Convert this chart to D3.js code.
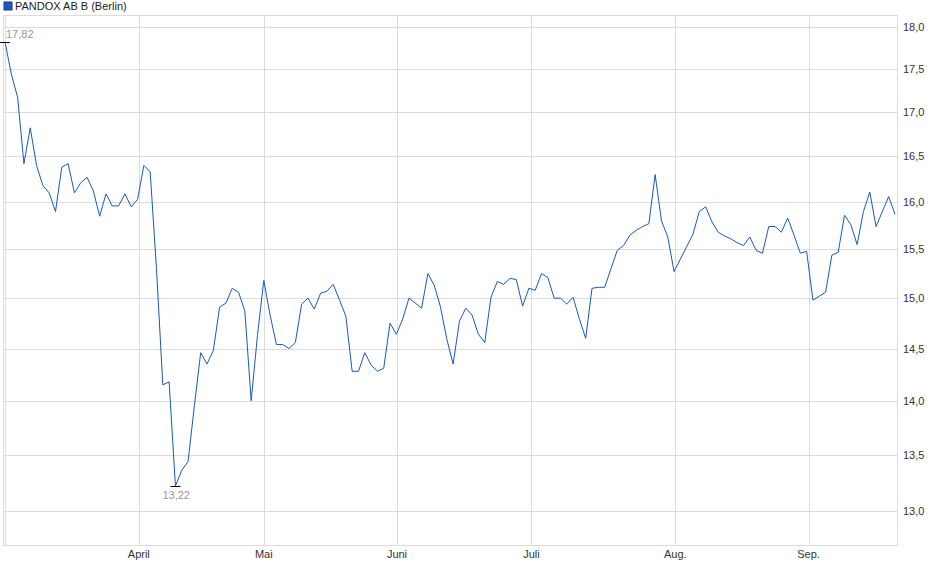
<!DOCTYPE html>
<html><head><meta charset="utf-8">
<script src="https://cdnjs.cloudflare.com/ajax/libs/d3/7.8.5/d3.min.js"></script>
<style>body{margin:0;background:#fff;font-family:"Liberation Sans",Arial,sans-serif}</style>
</head><body><div id="app"></div>
<script>
var title = "PANDOX AB B (Berlin)";
var prices = [
 17.82,17.44,17.17,16.42,16.82,16.40,16.18,16.10,15.90,16.38,
 16.42,16.10,16.21,16.27,16.12,15.85,16.09,15.96,15.96,16.09,
 15.95,16.03,16.40,16.33,15.30,14.15,14.18,13.22,13.36,13.44,
 13.95,14.46,14.35,14.48,14.91,14.95,15.10,15.06,14.87,14.00,
 14.63,15.18,14.83,14.54,14.54,14.50,14.56,14.94,15.00,14.89,
 15.05,15.07,15.14,14.98,14.82,14.28,14.28,14.46,14.34,14.28,
 14.31,14.75,14.64,14.79,15.00,14.95,14.90,15.25,15.13,14.91,
 14.59,14.35,14.77,14.90,14.83,14.64,14.56,15.01,15.17,15.14,
 15.20,15.19,14.92,15.10,15.08,15.25,15.21,15.00,15.00,14.94,
 15.01,14.79,14.60,15.10,15.11,15.11,15.30,15.49,15.54,15.65,
 15.70,15.74,15.77,16.30,15.80,15.63,15.27,15.40,15.53,15.66,
 15.90,15.95,15.79,15.68,15.64,15.61,15.57,15.54,15.63,15.49,
 15.46,15.74,15.74,15.68,15.83,15.65,15.46,15.48,14.98,15.02,
 15.06,15.44,15.47,15.86,15.76,15.55,15.90,16.11,15.74,15.90,
 16.06,15.87
];
var monthLabels = ["April","Mai","Juni","Juli","Aug.","Sep."];
var monthAt = [21.2,41.0,62.1,83.4,106.2,127.3];
var yTicks = [13,13.5,14,14.5,15,15.5,16,16.5,17,17.5,18];

var W = 940, H = 579;
var svg = d3.select("#app").append("svg").attr("width", W).attr("height", H);
var x = d3.scaleLinear().domain([0, prices.length - 1]).range([5, 895]);
var y = d3.scaleLog().domain([13, 18]).range([511, 27]);
var fmt = function (v) { return d3.format(".1f")(v).replace(".", ","); };

svg.selectAll("line.hg").data(yTicks).enter().append("line")
    .attr("x1", 3).attr("x2", 897)
    .attr("y1", function (d) { return Math.round(y(d)) + 0.5; })
    .attr("y2", function (d) { return Math.round(y(d)) + 0.5; })
    .attr("stroke", "#dcdcdc");
svg.selectAll("line.vg").data(monthAt).enter().append("line")
    .attr("x1", function (d) { return Math.round(x(d)) + 0.5; })
    .attr("x2", function (d) { return Math.round(x(d)) + 0.5; })
    .attr("y1", 15).attr("y2", 546).attr("stroke", "#dcdcdc");
// frame
svg.append("rect").attr("x", 3.5).attr("y", 15.5).attr("width", 894).attr("height", 530)
    .attr("fill", "none").attr("stroke", "#dcdcdc");
svg.append("line").attr("x1", 5.5).attr("x2", 5.5).attr("y1", 15).attr("y2", 546).attr("stroke", "#dcdcdc");

svg.selectAll("text.yt").data(yTicks).enter().append("text")
    .attr("x", 903).attr("y", function (d) { return y(d) + 4; })
    .attr("font-size", 11).attr("fill", "#333").text(fmt);
svg.selectAll("text.mt").data(monthAt).enter().append("text")
    .attr("x", function (d) { return x(d); }).attr("y", 558)
    .attr("text-anchor", "middle").attr("font-size", 11).attr("fill", "#333")
    .text(function (d, i) { return monthLabels[i]; });

svg.append("path").datum(prices)
    .attr("d", d3.line().x(function (d, i) { return x(i); }).y(function (d) { return y(d); }))
    .attr("fill", "none").attr("stroke", "#1a56c4").attr("stroke-width", 1);

// min/max markers
var iMax = d3.maxIndex(prices), iMin = d3.minIndex(prices);
[[iMax, -4], [iMin, 13]].forEach(function (m) {
    var px = x(m[0]), py = y(prices[m[0]]);
    svg.append("line").attr("x1", px - 5).attr("x2", px + 5).attr("y1", Math.round(py) + 0.5)
        .attr("y2", Math.round(py) + 0.5).attr("stroke", "#000");
    svg.append("text").attr("x", m[0] === iMax ? px + 1 : px - 13).attr("y", py + m[1])
        .attr("font-size", 11).attr("fill", "#999").text(prices[m[0]].toFixed(2).replace(".", ","));
});

svg.append("rect").attr("x", 4).attr("y", 2).attr("width", 8).attr("height", 8)
    .attr("fill", "#1a56c4").attr("stroke", "#103a8a");
svg.append("text").attr("x", 15).attr("y", 10).attr("font-size", 11).attr("fill", "#222").text(title);
</script></body></html>
